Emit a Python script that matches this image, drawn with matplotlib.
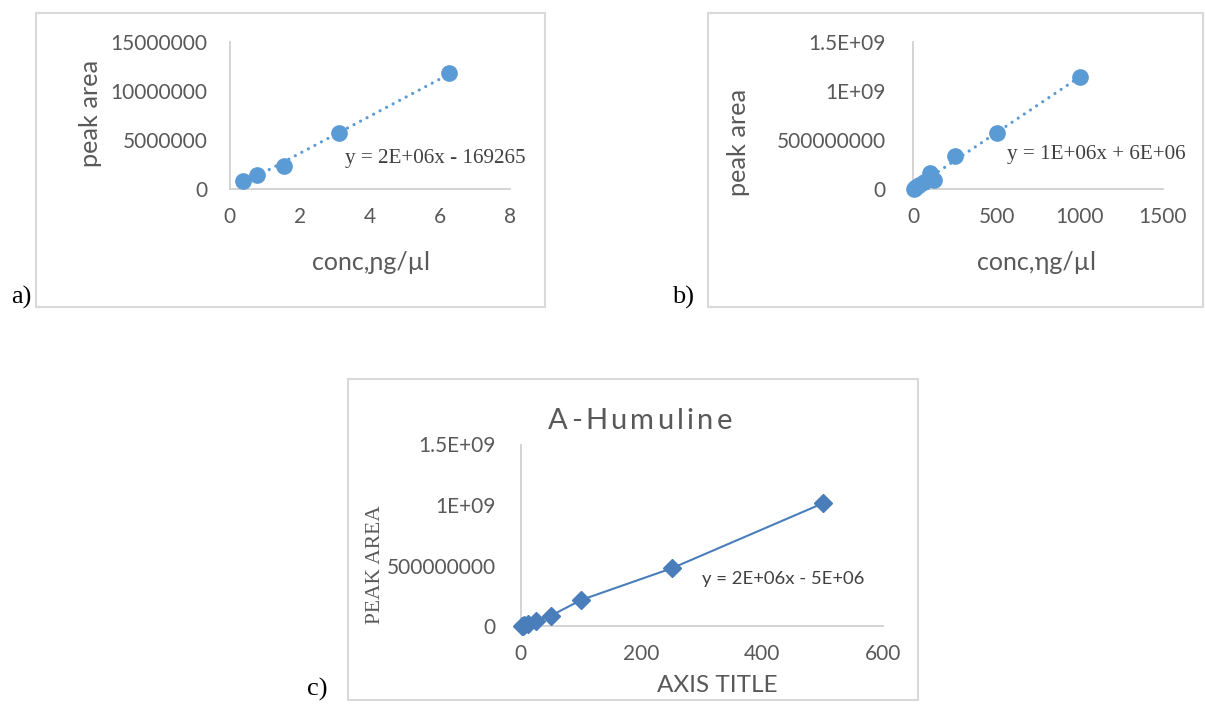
import numpy as np
import matplotlib
matplotlib.use("Agg")
import matplotlib.pyplot as plt
from matplotlib.patches import Rectangle

W, H = 1205, 704

# ---- data -------------------------------------------------------------
a_conc = [0.39, 0.78, 1.5625, 3.125, 6.25]
a_area = [0.87e6, 1.45e6, 2.40e6, 5.69e6, 11.79e6]
a_xticks = [0, 2, 4, 6, 8]
a_yticks = [0, 5000000, 10000000, 15000000]
a_yticklabels = ["0", "5000000", "10000000", "15000000"]
a_equation = "y = 2E+06x - 169265"

b_conc = [3.9, 7.8, 15.6, 31.25, 62.5, 100, 125, 250, 500, 1000]
b_area = [0.008e9, 0.015e9, 0.028e9, 0.045e9, 0.070e9, 0.163e9, 0.094e9,
          0.338e9, 0.569e9, 1.138e9]
b_xticks = [0, 500, 1000, 1500]
b_yticks = [0, 0.5e9, 1.0e9, 1.5e9]
b_yticklabels = ["0", "500000000", "1E+09", "1.5E+09"]
b_equation = "y = 1E+06x + 6E+06"

c_conc = [1.56, 3.125, 6.25, 12.5, 25, 50, 100, 250, 500]
c_area = [0.001e9, 0.004e9, 0.010e9, 0.020e9, 0.044e9, 0.085e9, 0.215e9,
          0.477e9, 1.014e9]
c_xticks = [0, 200, 400, 600]
c_yticks = [0, 0.5e9, 1.0e9, 1.5e9]
c_yticklabels = ["0", "500000000", "1E+09", "1.5E+09"]
c_equation = "y = 2E+06x - 5E+06"
c_title = "A-Humuline"

# ---- style ------------------------------------------------------------
SANS = ["Lato", "DejaVu Sans"]
SERIF = ["Liberation Serif", "DejaVu Serif"]
GRAY = "#595959"
DARK = "#404040"
BORDER = "#d9d9d9"
AXLINE = "#d0d0d0"
BLUE = "#5B9BD5"
BLUE_C = "#4A7EBB"
TICK_FS = 15

fig = plt.figure(figsize=(W / 100, H / 100), dpi=100)
fig.patch.set_facecolor("white")

# pixel-space canvas for frames and free text
bg = fig.add_axes([0, 0, 1, 1])
bg.set_xlim(0, W)
bg.set_ylim(H, 0)
bg.axis("off")


def frame(x0, y0, x1, y1):
    bg.add_patch(Rectangle((x0, y0), x1 - x0, y1 - y0, fill=False,
                           edgecolor=BORDER, linewidth=1.5))


def px_axes(x0, x1, y_top, y_bot):
    ax = fig.add_axes([x0 / W, (H - y_bot) / H, (x1 - x0) / W,
                       (y_bot - y_top) / H])
    ax.patch.set_alpha(0)
    for s in ("top", "right"):
        ax.spines[s].set_visible(False)
    for s in ("left", "bottom"):
        ax.spines[s].set_color(AXLINE)
        ax.spines[s].set_linewidth(1.3)
    ax.tick_params(length=0, labelcolor=GRAY, labelsize=TICK_FS)
    return ax


def style_ticks(ax, xpad, ypad):
    ax.tick_params(axis="x", pad=xpad)
    ax.tick_params(axis="y", pad=ypad)
    for lab in ax.get_xticklabels() + ax.get_yticklabels():
        lab.set_family(SANS)
        lab.set_color(GRAY)
        lab.set_fontsize(TICK_FS)


def trend(ax, x, y, **kw):
    k, b = np.polyfit(x, y, 1)
    xs = np.array([min(x), max(x)])
    ax.plot(xs, k * xs + b, **kw)


dotted = dict(color=BLUE, linewidth=2.3, linestyle=(0, (0.01, 2.3)),
              dash_capstyle="round", zorder=2)

# ---- panel a ----------------------------------------------------------
frame(36, 13, 545, 307)
ax_a = px_axes(229.5, 510, 41.7, 189.3)
ax_a.set_xlim(0, 8)
ax_a.set_ylim(0, 15000000)
ax_a.set_xticks(a_xticks)
ax_a.set_yticks(a_yticks)
ax_a.set_yticklabels(a_yticklabels)
style_ticks(ax_a, 13, 16)
trend(ax_a, a_conc, a_area, **dotted)
ax_a.plot(a_conc, a_area, "o", color=BLUE, markersize=11, clip_on=False,
          zorder=3)
bg.text(345, 158, a_equation, family=SERIF, fontsize=15.2, color=DARK,
        ha="left", va="center")
bg.text(90, 113, "peak area", family=SANS, fontsize=18.2, color=GRAY,
        rotation=90, ha="center", va="center")
bg.text(371, 262, "conc,\u0272g/\u00b5l", family=SANS, fontsize=18,
        color=GRAY, ha="center", va="center")
bg.text(11, 297, "a)", family=SERIF, fontsize=19, color="black",
        ha="left", va="center")

# ---- panel b ----------------------------------------------------------
frame(708, 13, 1203, 307)
ax_b = px_axes(913.3, 1163, 41.7, 189.3)
ax_b.set_xlim(0, 1500)
ax_b.set_ylim(0, 1.5e9)
ax_b.set_xticks(b_xticks)
ax_b.set_yticks(b_yticks)
ax_b.set_yticklabels(b_yticklabels)
style_ticks(ax_b, 13, 20)
trend(ax_b, b_conc, b_area, **dotted)
ax_b.plot(b_conc, b_area, "o", color=BLUE, markersize=11, clip_on=False,
          zorder=3)
bg.text(1007, 155, b_equation, family=SERIF, fontsize=15.2, color=DARK,
        ha="left", va="center")
bg.text(738, 142, "peak area", family=SANS, fontsize=18.2, color=GRAY,
        rotation=90, ha="center", va="center")
bg.text(1037, 262, "conc,\u019eg/\u00b5l", family=SANS, fontsize=18,
        color=GRAY, ha="center", va="center")
bg.text(672, 297, "b)", family=SERIF, fontsize=19, color="black",
        ha="left", va="center")

# ---- panel c ----------------------------------------------------------
frame(348, 379, 918, 700)
ax_c = px_axes(520.7, 883.3, 444.5, 626)
ax_c.set_xlim(0, 600)
ax_c.set_ylim(0, 1.5e9)
ax_c.set_xticks(c_xticks)
ax_c.set_yticks(c_yticks)
ax_c.set_yticklabels(c_yticklabels)
style_ticks(ax_c, 13, 18)
ax_c.plot(c_conc, c_area, "-", color=BLUE_C, linewidth=1.5, zorder=2)
ax_c.plot(c_conc, c_area, "D", color=BLUE_C, markersize=9.5, clip_on=False,
          zorder=3)
bg.text(702, 579, c_equation, family=SANS, fontsize=13.3, color=DARK,
        ha="left", va="center")
bg.text(375, 565, "PEAK AREA", family=SERIF, fontsize=15.5, color=GRAY,
        rotation=90, ha="center", va="center")
bg.text(717, 685, "AXIS TITLE", family=SANS, fontsize=17.5, color=GRAY,
        ha="center", va="center")
bg.text(307, 689, "c)", family=SERIF, fontsize=19, color="black",
        ha="left", va="center")

# letter-spaced chart title
renderer = fig.canvas.get_renderer()
title_kw = dict(family=SANS, fontsize=21, color=GRAY)
tracking = 3.2
widths = []
for ch in c_title:
    t = bg.text(0, 0, ch, **title_kw)
    widths.append(t.get_window_extent(renderer).width)
    t.remove()
prefix = []
for i in range(len(c_title)):
    t = bg.text(0, 0, c_title[:i + 1], **title_kw)
    prefix.append(t.get_window_extent(renderer).width)
    t.remove()
total = prefix[-1] + tracking * (len(c_title) - 1)
x_start = 640 - total / 2
for i, ch in enumerate(c_title):
    left = prefix[i] - widths[i]
    bg.text(x_start + left + tracking * i, 421, ch, ha="left", va="center",
            **title_kw)

fig.savefig("out.png", dpi=100, facecolor="white")
